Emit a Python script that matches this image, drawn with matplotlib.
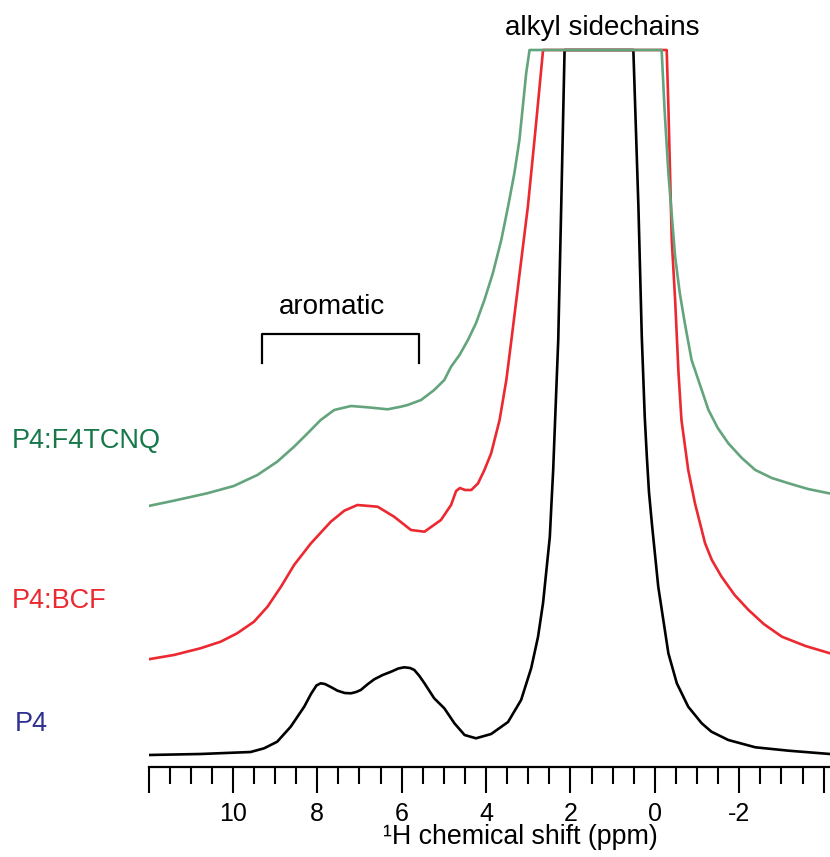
import matplotlib
matplotlib.use("Agg")
import matplotlib.pyplot as plt
import numpy as np
from matplotlib.ticker import MultipleLocator, FixedLocator, FuncFormatter

plt.rcParams['font.family'] = ['Liberation Sans', 'DejaVu Sans']
plt.rcParams['axes.unicode_minus'] = False

# ---- data (ppm, intensity in arbitrary units) ----
ceiling = 717

p4_ppm = [12.0, 10.77, 9.58, 9.26, 8.95, 8.63, 8.31, 8.15, 8.02, 7.92, 7.82, 7.68, 7.52, 7.35,
          7.20, 7.08, 6.97, 6.80, 6.65, 6.45, 6.25, 6.08, 5.94, 5.80, 5.70, 5.58, 5.46, 5.23,
          4.99, 4.75, 4.51, 4.24, 3.88, 3.48, 3.17, 2.93, 2.77, 2.65,
          2.57, 2.49, 2.45, 2.41, 2.38, 2.29, 2.22, 2.14, 0.51, 0.39, 0.31, 0.24, 0.19, 0.14,
          0.07, 0.00, -0.08, -0.20, -0.32, -0.52, -0.79, -1.11, -1.34, -1.74, -2.38, -3.17, -4.15]
p4_int = [12, 13, 15, 18.7, 25.3, 40.3, 60.3, 73, 81.5, 83.7, 83, 80, 76.3, 74,
          73.7, 75, 77, 83, 87.7, 92, 95.3, 98.5, 99.7, 99, 97, 91, 83.7, 68.7,
          58.7, 43.7, 32, 28.7, 33, 45, 67, 99, 130, 164,
          197, 230, 264, 297, 330, 427, 560, 717, 717, 560, 430, 350, 310, 275,
          243, 213.7, 180.3, 147, 113.7, 83.7, 60.3, 43.7, 35.3, 27, 19.7, 16.3, 13]

bcf_ppm = [12.0, 11.40, 10.77, 10.29, 9.90, 9.50, 9.18, 8.86, 8.55, 8.15, 7.68, 7.36, 7.05,
           6.57, 6.18, 5.78, 5.46, 5.07, 4.83, 4.71, 4.62, 4.50, 4.35, 4.19, 4.04, 3.88,
           3.68, 3.52, 3.40, 3.21, 3.01, 2.83, 2.65, -0.28, -0.32, -0.36, -0.40, -0.48,
           -0.56, -0.63, -0.79, -0.95, -1.19, -1.35, -1.58, -1.89, -2.22, -2.58, -3.01,
           -3.57, -4.15]
bcf_int = [107.7, 112, 118.7, 125.3, 133.7, 145.3, 160.3, 180.3, 202, 223.7, 245.3, 256.3, 262,
           260.3, 250.3, 237, 235.3, 247, 262, 276, 279, 277, 277, 283.7, 297, 313.7,
           347, 387, 427, 492, 560.3, 637, 717, 717, 660.3, 593.7, 527, 467,
           394, 347, 297, 263.7, 223.7, 207, 190.3, 172, 157, 143, 130.3,
           121, 113.7]

f4_ppm = [12.0, 11.40, 10.61, 9.98, 9.42, 8.95, 8.55, 8.23, 7.92, 7.60, 7.20, 6.81, 6.33,
          6.02, 5.86, 5.54, 5.23, 4.99, 4.83, 4.63, 4.43, 4.24, 4.04, 3.84, 3.64, 3.48,
          3.33, 3.21, 3.13, 3.05, 2.97, -0.16, -0.23, -0.32, -0.40, -0.48, -0.59, -0.71,
          -0.87, -1.11, -1.27, -1.49, -1.74, -2.06, -2.38, -2.77, -3.17, -3.63, -4.15]
f4_int = [261, 266.3, 273.7, 281, 292, 305.3, 320.3, 333.7, 347, 357, 361, 359.7, 357.7,
          360.3, 362, 367, 377, 387, 400.3, 412, 427, 443.7, 467, 493.7, 527, 560.3,
          593.7, 627, 660.3, 693.7, 717, 717, 657, 593.7, 552, 510.3, 474, 443.7,
          407, 377, 357, 339, 323.7, 309, 297, 289, 283.7, 278, 273.5]

series_labels = ["P4:F4TCNQ", "P4:BCF", "P4"]
major_ticks = [12, 10, 8, 6, 4, 2, 0, -2, -4]
labeled_ticks = [10, 8, 6, 4, 2, 0, -2]

green_line = "#64a47c"
red_line = "#ec2830"
green_text = "#17784a"
blue_text = "#2e3192"

W, H = 830, 857
fig = plt.figure(figsize=(W / 100, H / 100), dpi=100)
ax = fig.add_axes([148.5 / W, (H - 767) / H, (W - 148.5) / W, (767 - 40) / H])
ax.set_xlim(12, -4.15)
ax.set_ylim(0, 727)

lw = 1.9
ax.plot(p4_ppm, np.minimum(p4_int, ceiling), color="black", lw=lw, zorder=3,
        solid_joinstyle="round")
ax.plot(bcf_ppm, np.minimum(bcf_int, ceiling), color=red_line, lw=lw, zorder=4,
        solid_joinstyle="round")
ax.plot(f4_ppm, np.minimum(f4_int, ceiling), color=green_line, lw=lw, zorder=5,
        solid_joinstyle="round")

for s in ["top", "left", "right"]:
    ax.spines[s].set_visible(False)
ax.spines["bottom"].set_linewidth(1.6)
ax.set_yticks([])

ax.xaxis.set_major_locator(FixedLocator(major_ticks))
ax.xaxis.set_minor_locator(MultipleLocator(0.5))
ax.xaxis.set_major_formatter(FuncFormatter(lambda v, p: (f"{v:g}" if round(v) in labeled_ticks else "")))
ax.tick_params(axis="x", which="major", direction="out", length=19, width=1.5, pad=6, labelsize=18)
ax.tick_params(axis="x", which="minor", direction="out", length=12, width=1.5)

# bracket
ax.plot([9.30, 9.30, 5.59, 5.59], [404, 433, 433, 404], color="black", lw=1.6, clip_on=False)
ax.text(7.66, 460, "aromatic", ha="center", va="center", fontsize=20)
ax.text(1.24, 739, "alkyl sidechains", ha="center", va="center", fontsize=20, clip_on=False)

fig.text(520 / W, 1 - 837 / H, "¹H chemical shift (ppm)", ha="center", va="center", fontsize=19.3)

fig.text(12 / W, 1 - 441 / H, series_labels[0], color=green_text, ha="left", va="center", fontsize=19.5)
fig.text(12 / W, 1 - 601 / H, series_labels[1], color=red_line, ha="left", va="center", fontsize=19.5)
fig.text(15 / W, 1 - 724 / H, series_labels[2], color=blue_text, ha="left", va="center", fontsize=19.5)

fig.savefig("out.png", dpi=100)
